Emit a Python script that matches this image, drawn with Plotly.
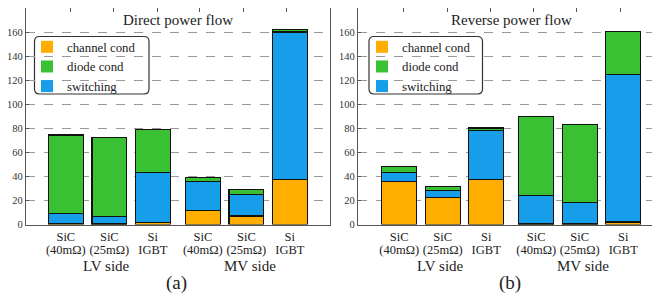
import plotly.graph_objects as go

# ---- data ----
category_line1 = ["SiC", "SiC", "Si", "SiC", "SiC", "Si"]
category_line2 = ["(40mΩ)", "(25mΩ)", "IGBT", "(40mΩ)", "(25mΩ)", "IGBT"]
positions = [0, 1, 2, 3.15, 4.15, 5.15]
series_names = ["channel cond", "diode cond", "switching"]
series_colors = ["#FFAE00", "#3AC033", "#169EEA"]

# Direct power flow (a)
direct_channel = [0.8, 0.5, 1.5, 11.4, 7.0, 37.2]
direct_switching = [8.4, 5.9, 41.5, 24.1, 18.0, 122.8]
direct_diode = [65.2, 66.1, 36.1, 3.8, 4.0, 2.3]

# Reverse power flow (b)
reverse_channel = [35.8, 22.4, 37.2, 0.5, 0.5, 2.0]
reverse_switching = [7.6, 6.0, 40.8, 23.5, 17.8, 122.9]
reverse_diode = [4.5, 3.5, 2.2, 65.5, 64.6, 35.8]

group_labels = ["LV side", "MV side"]
panel_titles = ["Direct power flow", "Reverse power flow"]
panel_tags = ["(a)", "(b)"]
y_ticks = list(range(0, 181, 20))

# page body has an 8px margin: figure sits at (8, 8) in the 660x299 window
OFF = 8
W, H = 660 - OFF, 299 - OFF
FONT = "Liberation Serif, serif"
TXT = "#222222"

fig = go.Figure()

# stack order bottom->top: channel, switching, diode
def add_panel(xa, ya, leg, ch, sw, di):
    stack = [(0, ch), (2, sw), (1, di)]
    for idx, vals in stack:
        fig.add_trace(go.Bar(
            x=positions, y=vals, width=0.8,
            marker=dict(color=series_colors[idx], line=dict(color="#111111", width=1.2)),
            xaxis=xa, yaxis=ya, showlegend=False, name=series_names[idx],
        ))
    for idx in range(3):
        fig.add_trace(go.Bar(
            x=[None], y=[None], name=series_names[idx],
            marker=dict(color=series_colors[idx], line=dict(width=0)),
            xaxis=xa, yaxis=ya, showlegend=True, legend=leg,
        ))

add_panel("x", "y", "legend", direct_channel, direct_switching, direct_diode)
add_panel("x2", "y2", "legend2", reverse_channel, reverse_switching, reverse_diode)

unit = 43.5
def px(x):  # window pixel -> paper
    return (x - OFF) / W
def py(y):
    return 1 - (y - OFF) / H

yd = [py(224.5), min(1.0, py(5.7))]
left_dom = [px(26), px(330)]
right_dom = [px(358), 1.0]
left_rng = [(26 - 65.8) / unit, (330 - 65.8) / unit]
right_rng = [(358 - 399.2) / unit, (660 - 399.2) / unit]

axis_common = dict(showline=True, linecolor="#555555", linewidth=1.2, mirror=True,
                   showgrid=False, zeroline=False, ticks="", tickangle=0, automargin=False,
                   tickfont=dict(family=FONT, size=12.5, color=TXT))
yaxis_common = dict(range=[0, 180], tickvals=y_ticks, showline=True, linecolor="#555555",
                    linewidth=1.2, mirror=True, showgrid=True, gridcolor="#999999",
                    griddash="dash", gridwidth=1, zeroline=False, ticks="inside", ticklen=3,
                    tickcolor="#555555", tickfont=dict(family=FONT, size=10.5, color="#333333"),
                    domain=yd, automargin=False)

legend_common = dict(yanchor="top", xanchor="left", bgcolor="rgba(0,0,0,0)",
                     font=dict(family=FONT, size=12.8, color=TXT),
                     tracegroupgap=0, itemwidth=30, traceorder="normal")

fig.update_layout(
    xaxis=dict(domain=left_dom, range=left_rng, tickvals=positions, ticktext=category_line1, anchor="y", **axis_common),
    xaxis2=dict(domain=right_dom, range=right_rng, tickvals=positions, ticktext=category_line1, anchor="y2", **axis_common),
    yaxis=dict(anchor="x", **yaxis_common),
    yaxis2=dict(anchor="x2", **yaxis_common),
    barmode="stack",
    width=W, height=H,
    margin=dict(l=0, r=0, t=0, b=0, autoexpand=False),
    plot_bgcolor="white", paper_bgcolor="white",
    font=dict(family=FONT, color=TXT),
    legend=dict(x=px(27), y=py(32), **legend_common),
    legend2=dict(x=px(362), y=py(32), **legend_common),
)

# second line of category labels and top inward tick marks (overlay axes)
top_ticks = [0.1, 1.1, 2.1, 3.08, 4.08, 5.08]
line2_common = dict(side="bottom", tickvals=positions, ticktext=category_line2, ticks="",
                    ticklabelstandoff=16, tickangle=0, automargin=False,
                    tickfont=dict(family=FONT, size=12.5, color=TXT),
                    showgrid=False, zeroline=False, showline=False)
top_common = dict(side="top", tickvals=top_ticks, showticklabels=False, ticks="inside",
                  ticklen=4, tickcolor="#555555", showgrid=False, zeroline=False, showline=False)
fig.update_layout(
    xaxis3=dict(overlaying="x", anchor="y", range=left_rng, **top_common),
    xaxis4=dict(overlaying="x2", anchor="y2", range=right_rng, **top_common),
    xaxis5=dict(overlaying="x", anchor="y", range=left_rng, **line2_common),
    xaxis6=dict(overlaying="x2", anchor="y2", range=right_rng, **line2_common),
)
for xa, ya in [("x3", "y"), ("x4", "y2"), ("x5", "y"), ("x6", "y2")]:
    fig.add_trace(go.Scatter(x=[None], y=[None], xaxis=xa, yaxis=ya, showlegend=False))

# rounded legend frames
def rounded_rect(x0, y0, x1, y1, r):
    X = lambda v: px(v)
    Y = lambda v: py(v)
    return (f"M {X(x0+r)} {Y(y0)} L {X(x1-r)} {Y(y0)} Q {X(x1)} {Y(y0)} {X(x1)} {Y(y0+r)} "
            f"L {X(x1)} {Y(y1-r)} Q {X(x1)} {Y(y1)} {X(x1-r)} {Y(y1)} "
            f"L {X(x0+r)} {Y(y1)} Q {X(x0)} {Y(y1)} {X(x0)} {Y(y1-r)} "
            f"L {X(x0)} {Y(y0+r)} Q {X(x0)} {Y(y0)} {X(x0+r)} {Y(y0)} Z")

for (x0, x1) in [(34.5, 149), (369, 482.5)]:
    fig.add_shape(type="path", xref="paper", yref="paper",
                  path=rounded_rect(x0, 36.5, x1, 94, 5),
                  line=dict(color="#333333", width=1.2), fillcolor="white", layer="below")

def note(cx, cy, text, size):
    fig.add_annotation(x=px(cx), y=py(cy), xref="paper", yref="paper", text=text,
                       xanchor="center", yanchor="middle", showarrow=False,
                       font=dict(family=FONT, size=size, color=TXT))

for cx, title in zip([177.5, 511.5], panel_titles):
    note(cx, 20, title, 15)
for cx, lab in zip([106.7, 249.7, 440.5, 583.3], group_labels * 2):
    note(cx, 266, lab, 15)
for cx, tag in zip([176.7, 510], panel_tags):
    note(cx, 283, tag, 19)

fig.write_html("out.html")
